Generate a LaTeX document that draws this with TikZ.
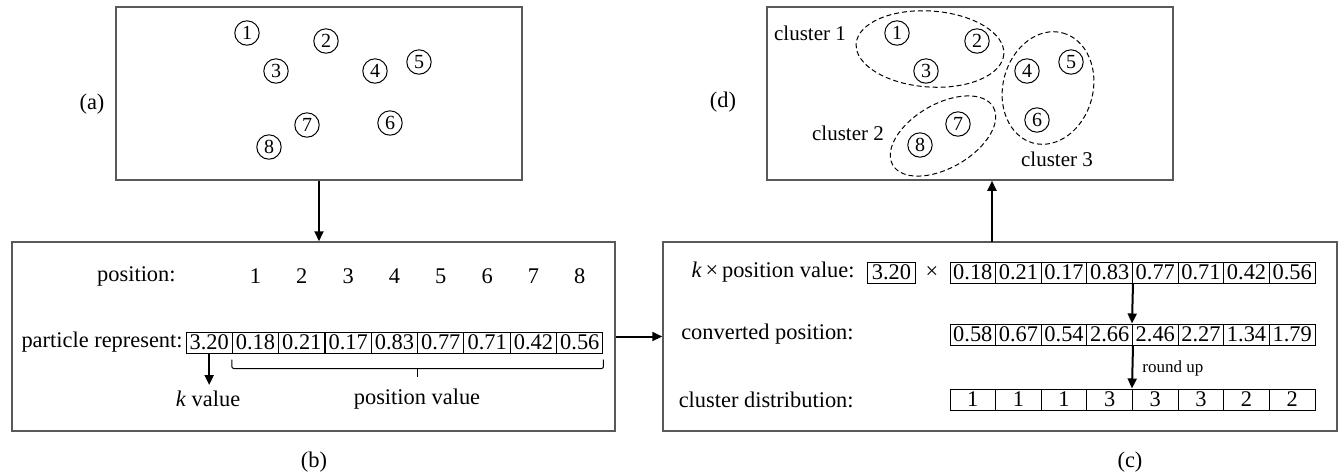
\documentclass[tikz,border=0pt]{standalone}
\usepackage{fontspec}
\setmainfont{Liberation Serif}
\usetikzlibrary{arrows.meta,calc}
\tikzset{
  txt/.style={inner sep=0pt, font=\fontsize{11.2}{13}\selectfont},
  clabel/.style={inner sep=0pt, font=\fontsize{10.5}{12}\selectfont},
  small/.style={inner sep=0pt, font=\fontsize{8.5}{10}\selectfont},
  frame/.style={draw=black!65, line width=0.75pt, inner sep=0pt},
  pt/.style={draw, circle, line width=0.5pt, minimum size=12.2pt, inner sep=0pt,
    font=\fontsize{10}{12}\selectfont},
  cellb/.style={draw, line width=0.5pt, minimum width=23.17pt, minimum height=10.5pt,
    inner sep=0pt, font=\fontsize{11.2}{13}\selectfont},
  cellc/.style={cellb, minimum width=22.81pt},
  arr/.style={line width=1pt, -{Triangle[length=5pt,width=4.5pt]}},
  grp/.style={dashed, dash pattern=on 2.5pt off 1.5pt, line width=0.5pt},
  brk/.style={line width=0.5pt, rounded corners=1pt}
}
\begin{document}
\begin{tikzpicture}[x=0.5pt, y=-0.5pt]
\useasboundingbox (0,0) rectangle (1341,473);

% panel frames
\node[frame, minimum width=203pt, minimum height=86.5pt] (A) at (319,93.5) {};
\node[frame, minimum width=203pt, minimum height=86.5pt] (D) at (970,93.5) {};
\node[frame, minimum width=301.5pt, minimum height=94.5pt] (B) at (313.5,336.5) {};
\node[frame, minimum width=337pt, minimum height=94.5pt] (C) at (1000,336.5) {};

% panel captions
\node[txt] (capA) at (92,104) {(a)};
\node[txt] (capD) at (723,102) {(d)};
\node[txt] (capB) at (314,462) {(b)};
\node[txt] (capC) at (1130,462) {(c)};

% (a) data points
\node[pt] (a1) at (247,33) {1};
\node[pt] (a2) at (326,41) {2};
\node[pt] (a3) at (276,71) {3};
\node[pt] (a4) at (375,71) {4};
\node[pt] (a5) at (419,62) {5};
\node[pt] (a6) at (390,123) {6};
\node[pt] (a7) at (307,125) {7};
\node[pt] (a8) at (269,147) {8};

% (d) clustered points
\node[pt] (d1) at (897,33) {1};
\node[pt] (d2) at (977,41) {2};
\node[pt] (d3) at (926,71) {3};
\node[pt] (d4) at (1027,71) {4};
\node[pt] (d5) at (1071,62) {5};
\node[pt] (d6) at (1037,120) {6};
\node[pt] (d7) at (958,124) {7};
\node[pt] (d8) at (920,145) {8};
\draw[grp, rotate around={-4:(930,49)}] (930,49) ellipse [x radius=74, y radius=38];
\draw[grp, rotate around={30:(943,136)}] (943,136) ellipse [x radius=58, y radius=32];
\draw[grp, rotate around={75:(1048,88)}] (1048,88) ellipse [x radius=57, y radius=45];
\node[clabel] (cl1) at (810,33) {cluster 1};
\node[clabel] (cl2) at (848,133) {cluster 2};
\node[clabel] (cl3) at (1057,159) {cluster 3};

% (b) particle encoding
\node[txt, anchor=east] (posl) at (176,276) {position:};
\foreach \i in {1,...,8}
  \node[txt] (p\i) at ({209.17+46.33*\i},276) {\i};
\node[txt, anchor=east] (partl) at (183,342.5) {particle represent:};
\foreach \v [count=\i from 0] in {3.20,0.18,0.21,0.17,0.83,0.77,0.71,0.42,0.56}
  \node[cellb] (b\i) at ({209.17+46.33*\i},342.5) {\v};
\coordinate (kend) at (209.17,385);
\draw[arr] (b0.south) -- (kend);
\node[txt] (kv) at (208,399) {\textit{k} value};
\draw[brk] ([yshift=-3pt]b1.south west) -- ([yshift=-7.5pt]b1.south west)
  -- ([yshift=-7.5pt]b8.south east) -- ([yshift=-3pt]b8.south east);
\coordinate (bm) at ($(b1.south west)!0.5!(b8.south east)$);
\draw[line width=0.5pt] ([yshift=-7.5pt]bm) -- ([yshift=-11.5pt]bm);
\node[txt] (pv) at (417,399) {position value};

% (c) decoding
\node[txt, anchor=east] (r1l) at (855,272.5) {\textit{k}\,×\,position value:};
\node[cellb, minimum width=24pt] (kc) at (891.5,272.5) {3.20};
\node[txt] (times) at (932,272.5) {×};
\foreach \v [count=\i] in {0.18,0.21,0.17,0.83,0.77,0.71,0.42,0.56}
  \node[cellc] (r1c\i) at ({927.19+45.625*\i},272.5) {\v};
\node[txt, anchor=east] (r2l) at (854,334.5) {converted position:};
\foreach \v [count=\i] in {0.58,0.67,0.54,2.66,2.46,2.27,1.34,1.79}
  \node[cellc] (r2c\i) at ({927.19+45.625*\i},334.5) {\v};
\node[txt, anchor=east] (r3l) at (854,399.5) {cluster distribution:};
\foreach \v [count=\i] in {1,1,1,3,3,3,2,2}
  \node[cellc] (r3c\i) at ({927.19+45.625*\i},399.5) {\v};
\draw[arr] (r1c4.south east) -- (r2c5.north west);
\draw[arr] (r2c4.south east) -- (r3c5.north west);
\node[small, anchor=west] (ru) at (1142,368) {round up};

% flow between panels
\draw[arr] (A.south) -- (A.south |- B.north);
\draw[arr] (B.east) -- (C.west);
\coordinate (cd) at (992,242);
\draw[arr] (cd) -- (cd |- D.south);
\end{tikzpicture}
\end{document}
